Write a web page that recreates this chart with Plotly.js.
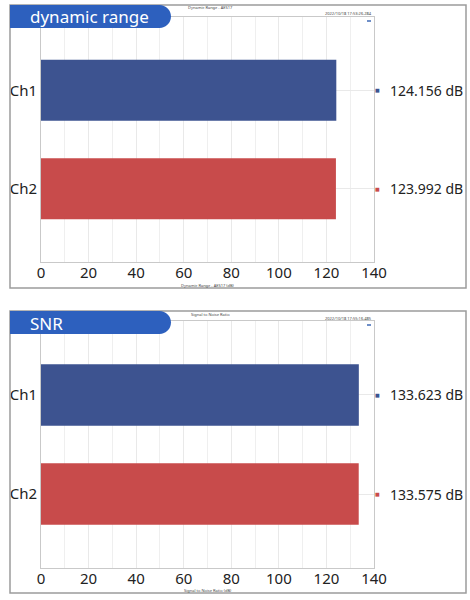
<!DOCTYPE html>
<html>
<head>
<meta charset="utf-8">
<script src="https://cdn.plot.ly/plotly-3.0.1.min.js"></script>
<style>html,body{margin:0;padding:0;background:#fff;}#chart{width:470px;height:600px;}</style>
</head>
<body>
<div id="chart"></div>
<script>
// ---- data ----
const channels = ['Ch1', 'Ch2'];
const dynamicRange = [124.156, 123.992];
const snr = [133.623, 133.575];
const barColors = ['#3d5390', '#c84b4b'];
const xTickValues = [0, 20, 40, 60, 80, 100, 120, 140];
const panelTitles = ['dynamic range', 'SNR'];
const chartTitles = ['Dynamic Range - AES17', 'Signal to Noise Ratio'];
const axisTitles = ['Dynamic Range - AES17 (dB)', 'Signal to Noise Ratio (dB)'];
const timestamps = ['2022/10/18 17:53:26.284', '2022/10/18 17:55:16.485'];
const unit = ' dB';

// ---- layout helpers ----
const W = 470, H = 600;
const px = x => x / W;
const py = y => 1 - y / H;

const panels = [
  {data: dynamicRange, box: [10, 5, 466, 288], plot: [41, 17, 374, 262], xa: 'x', ya: 'y'},
  {data: snr, box: [10, 311, 466, 593], plot: [41, 321, 374, 568], xa: 'x2', ya: 'y2'}
];

const font = 'Noto Sans, Open Sans, sans-serif';
const traces = [];
const shapes = [];
const annotations = [];
const layout = {
  width: W, height: H,
  margin: {l: 0, r: 0, t: 0, b: 0},
  paper_bgcolor: '#ffffff', plot_bgcolor: '#ffffff',
  showlegend: false,
  font: {family: font, color: '#222', size: 14},
  shapes: shapes, annotations: annotations
};

panels.forEach((p, i) => {
  const [pl, pt, pr, pb] = p.plot;
  const [bl, bt, br, bb] = p.box;
  traces.push({
    type: 'bar', orientation: 'h',
    x: p.data, y: channels,
    xaxis: p.xa, yaxis: p.ya,
    width: 0.62,
    marker: {color: barColors, line: {width: 0}},
    hoverinfo: 'none'
  });
  const xname = i === 0 ? 'xaxis' : 'xaxis2';
  const yname = i === 0 ? 'yaxis' : 'yaxis2';
  layout[xname] = {
    domain: [px(pl), px(pr)], anchor: p.xa === 'x' ? 'y' : 'y2',
    range: [0, 140], tickvals: xTickValues, ticks: '',
    showgrid: true, gridcolor: '#e9e9e9', gridwidth: 1,
    minor: {dtick: 10, showgrid: true, gridcolor: '#efefef', gridwidth: 1},
    showline: true, mirror: true, linecolor: '#c9c9c9', linewidth: 1,
    zeroline: false, tickfont: {size: 15, family: font, color: '#222'},
    ticklabelstandoff: -3
  };
  layout[yname] = {
    domain: [py(pb), py(pt)], anchor: p.xa,
    type: 'category', categoryarray: channels,
    range: [1.745, -0.745], ticks: '',
    showgrid: true, gridcolor: '#e9e9e9',
    showline: true, mirror: true, linecolor: '#c9c9c9', linewidth: 1,
    zeroline: false, tickfont: {size: 15, family: font, color: '#222'},
    ticklabelstandoff: 0
  };
  // panel frame
  shapes.push({type: 'rect', xref: 'paper', yref: 'paper',
    x0: px(bl), x1: px(br), y0: py(bb), y1: py(bt),
    line: {color: '#9c9c9c', width: 1.5}, fillcolor: 'rgba(0,0,0,0)', layer: 'above'});
  // blue tab
  const tx1 = 171, tr = (28 - 5) / 2;
  const th = bt + 23;
  const mid = (bt + th) / 2;
  const path = 'M' + px(bl) + ',' + py(bt) +
    ' L' + px(tx1 - tr) + ',' + py(bt) +
    ' C' + px(tx1 - tr * 0.45) + ',' + py(bt) + ' ' + px(tx1) + ',' + py(bt + tr * 0.45) + ' ' + px(tx1) + ',' + py(mid) +
    ' C' + px(tx1) + ',' + py(th - tr * 0.45) + ' ' + px(tx1 - tr * 0.45) + ',' + py(th) + ' ' + px(tx1 - tr) + ',' + py(th) +
    ' L' + px(bl) + ',' + py(th) + ' Z';
  shapes.push({type: 'path', xref: 'paper', yref: 'paper', path: path,
    fillcolor: '#2d60be', line: {width: 0}, layer: 'above'});
  annotations.push({xref: 'paper', yref: 'paper', x: px(28), y: py(mid + 0.5),
    xanchor: 'left', yanchor: 'middle', showarrow: false,
    text: panelTitles[i], font: {size: 17, color: '#ffffff', family: font}});
  // tiny chart titles
  annotations.push({xref: 'paper', yref: 'paper', x: px(210), y: py(bt + 3),
    xanchor: 'center', yanchor: 'middle', showarrow: false,
    text: chartTitles[i], font: {size: 4, color: '#444', family: font}});
  annotations.push({xref: 'paper', yref: 'paper', x: px(pr), y: py(pt - 3),
    xanchor: 'right', yanchor: 'middle', showarrow: false,
    text: timestamps[i], font: {size: 4, color: '#444', family: font}});
  annotations.push({xref: 'paper', yref: 'paper', x: px((pl + pr) / 2), y: py(bb - 2.5),
    xanchor: 'center', yanchor: 'middle', showarrow: false,
    text: axisTitles[i], font: {size: 4, color: '#444', family: font}});
  // tiny icon
  shapes.push({type: 'rect', xref: 'paper', yref: 'paper',
    x0: px(pr - 7), x1: px(pr - 3), y0: py(pt + 5), y1: py(pt + 3),
    fillcolor: '#6f8fc8', line: {width: 0}, layer: 'above'});
  // value labels
  channels.forEach((c, k) => {
    annotations.push({xref: 'paper', yref: p.ya, x: px(377.5), y: c,
      xanchor: 'center', yanchor: 'middle', showarrow: false,
      text: '■', font: {size: 5, color: barColors[k], family: 'DejaVu Sans'}});
    annotations.push({xref: 'paper', yref: p.ya, x: px(388), y: c,
      xanchor: 'left', yanchor: 'middle', showarrow: false,
      text: p.data[k].toFixed(3) + unit, font: {size: 14, color: '#222', family: font}});
  });
});

Plotly.newPlot('chart', traces, layout, {staticPlot: true, displayModeBar: false});
</script>
</body>
</html>
